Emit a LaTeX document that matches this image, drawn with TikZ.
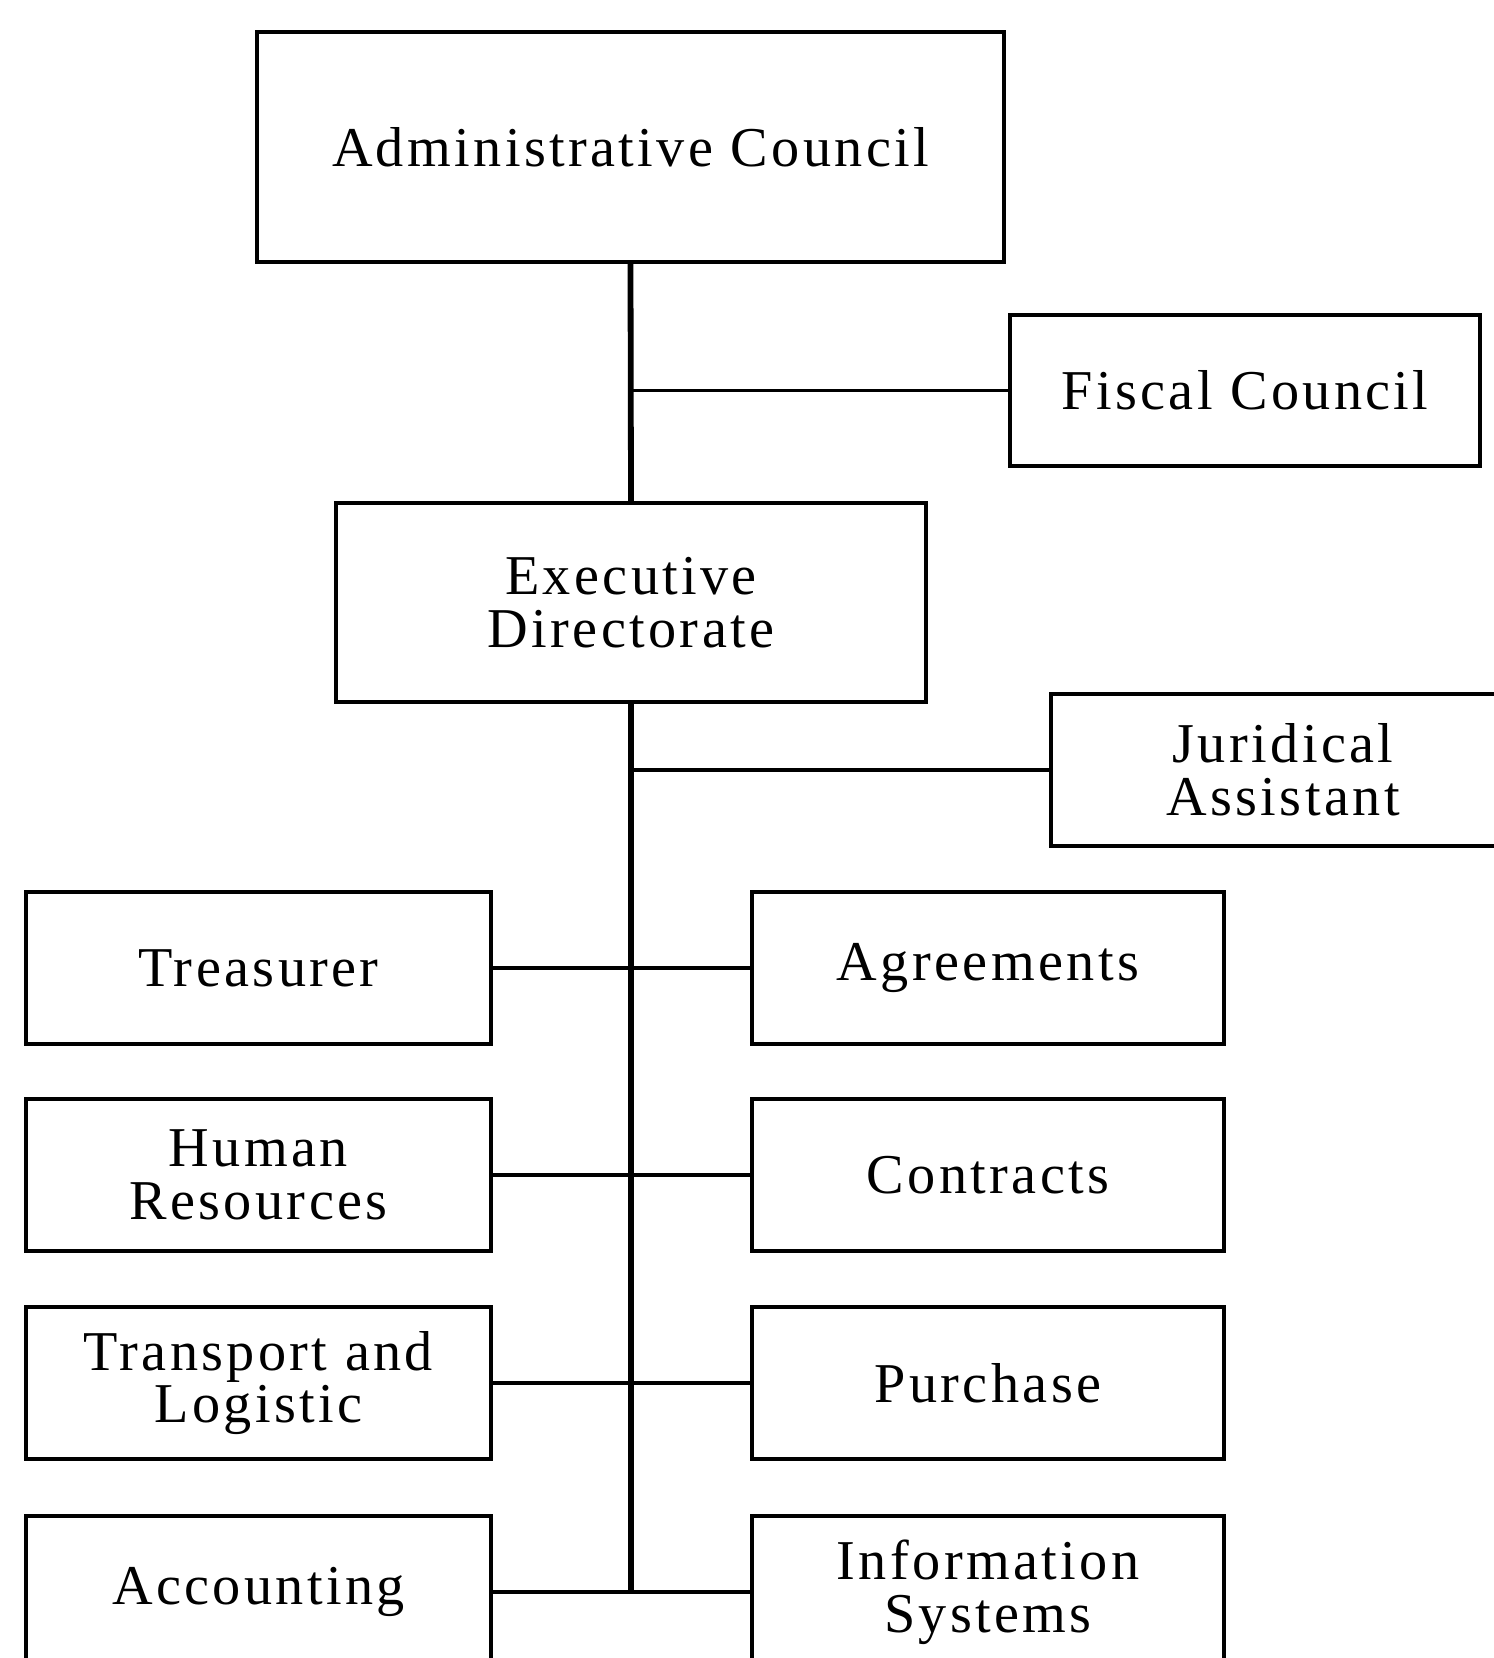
\documentclass[tikz,border=0pt]{standalone}
\usepackage{fontspec}
\setmainfont[LetterSpace=6]{Liberation Serif}
\usepackage{tikz}
\usetikzlibrary{positioning}

\begin{document}
\begin{tikzpicture}[
    unit/.style={draw, line width=2.3pt, align=center, inner sep=2pt, font=\fontsize{32}{30}\selectfont},
    leftunit/.style={unit, minimum width=9.3cm, minimum height=3.04cm},
    rightunit/.style={unit, minimum width=9.44cm, minimum height=3.04cm},
    branch/.style={line width=2.1pt},
    trunk/.style={line width=3.3pt}
]
    \useasboundingbox (0,0) rectangle (29.88,-33.16);

    % Councils and directorate
    \node[unit, minimum width=14.94cm, minimum height=4.6cm] (admin) at (12.61,-2.94) {Administrative Council};
    \node[unit, minimum width=9.4cm, minimum height=3.02cm] (fiscal) at (24.9,-7.81) {Fiscal Council};
    \node[unit, minimum width=11.8cm, minimum height=3.98cm] (exec) at (12.62,-12.05) {Executive\\Directorate};
    \node[unit, minimum width=9.28cm, minimum height=3.04cm, anchor=west] (jurid) at (20.98,-15.4) {Juridical\\Assistant};

    % Departments
    \node[leftunit] (treas) at (5.17,-19.36) {Treasurer};
    \node[rightunit] (agree) at (19.76,-19.36) {Agreements};
    \node[leftunit] (human) at (5.17,-23.5) {Human\\Resources};
    \node[rightunit] (contr) at (19.76,-23.5) {Contracts};
    \node[leftunit] (transp) at (5.17,-27.66) {Transport and\\Logistic};
    \node[rightunit] (purch) at (19.76,-27.66) {Purchase};
    \node[leftunit] (account) at (5.17,-31.84) {Accounting};
    \node[rightunit] (infosys) at (19.76,-31.84) {Information\\Systems};

    % Connectors
    \coordinate (fiscaljoin) at (admin.south |- fiscal.west);
    \coordinate (juridjoin) at (exec.south |- jurid.west);
    \coordinate (bottomjoin) at (exec.south |- account.east);
    \draw[trunk] (admin.south) -- (exec.north);
    \draw[trunk] (exec.south) -- (bottomjoin);
    \draw[branch] (fiscaljoin) -- (fiscal.west);
    \draw[branch] (juridjoin) -- (jurid.west);
    \draw[branch] (treas.east) -- (agree.west);
    \draw[branch] (human.east) -- (contr.west);
    \draw[branch] (transp.east) -- (purch.west);
    \draw[branch] (account.east) -- (infosys.west);
\end{tikzpicture}
\end{document}
